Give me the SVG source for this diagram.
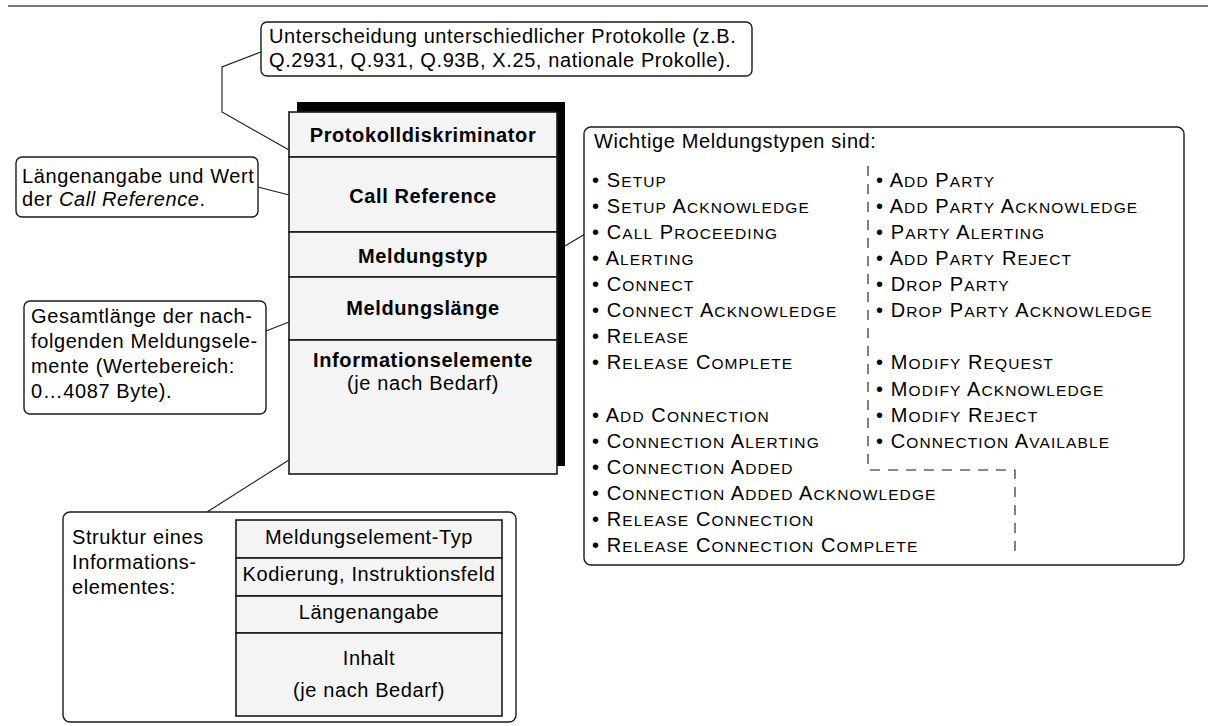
<svg xmlns="http://www.w3.org/2000/svg" width="1208" height="726" viewBox="0 0 1208 726">
  <style>
    text { font-family: "Liberation Sans", Arial, sans-serif; fill: #000; }
    .note { font-size: 20px; letter-spacing: 0.6px; }
    .box { fill: #fff; stroke: #1a1a1a; stroke-width: 1.4; }
    .cell { fill: #f4f4f4; stroke: #1a1a1a; stroke-width: 1.6; }
    .lead { fill: none; stroke: #1a1a1a; stroke-width: 1.1; }
    .head { font-size: 20px; font-weight: bold; letter-spacing: 0.6px; text-anchor: middle; }
    .sc { font-size: 20px; letter-spacing: 1.1px; }
    .sc tspan { font-size: 15.5px; }
    .mid { text-anchor: middle; }
    .dash { fill: none; stroke: #1a1a1a; stroke-width: 1.1; stroke-dasharray: 10 8; }
  </style>

  <!-- page rule -->
  <line x1="8" y1="6" x2="1208" y2="6" stroke="#777" stroke-width="2"/>

  <!-- leader lines -->
  <g id="connectors">
    <polyline class="lead" points="261,52 222,67 222,112 289,150"/>
    <line class="lead" x1="258" y1="187" x2="289" y2="195"/>
    <line class="lead" x1="266" y1="331" x2="289" y2="322"/>
    <line class="lead" x1="289" y1="460" x2="207" y2="512"/>
    <line class="lead" x1="565" y1="246" x2="585" y2="234"/>
  </g>

  <!-- message header stack -->
  <g id="message-stack">
    <rect x="297" y="102" width="268" height="364" fill="#000"/>
    <rect class="cell" x="289" y="112" width="268" height="45"/>
    <rect class="cell" x="289" y="157" width="268" height="75"/>
    <rect class="cell" x="289" y="232" width="268" height="45"/>
    <rect class="cell" x="289" y="277" width="268" height="63"/>
    <rect class="cell" x="289" y="340" width="268" height="134"/>
    <text class="head" x="423" y="142">Protokolldiskriminator</text>
    <text class="head" x="423" y="203">Call Reference</text>
    <text class="head" x="423" y="263">Meldungstyp</text>
    <text class="head" x="423" y="315">Meldungslänge</text>
    <text class="head" x="423" y="367">Informationselemente</text>
    <text class="note mid" x="423" y="390">(je nach Bedarf)</text>
  </g>

  <!-- protocol discriminator note -->
  <g id="note-protocol">
    <rect class="box" x="261" y="22" width="491" height="54" rx="6"/>
    <text class="note" x="269" y="43">Unterscheidung unterschiedlicher Protokolle (z.B.</text>
    <text class="note" x="269" y="67">Q.2931, Q.931, Q.93B, X.25, nationale Prokolle).</text>
  </g>

  <!-- call reference note -->
  <g id="note-callref">
    <rect class="box" x="16" y="157" width="242" height="60" rx="6"/>
    <text class="note" x="22" y="183">Längenangabe und Wert</text>
    <text class="note" x="22" y="206">der <tspan font-style="italic">Call Reference</tspan>.</text>
  </g>

  <!-- message length note -->
  <g id="note-length">
    <rect class="box" x="24" y="301" width="242" height="113" rx="6"/>
    <text class="note" x="31" y="323">Gesamtlänge der nach-</text>
    <text class="note" x="31" y="348">folgenden Meldungsele-</text>
    <text class="note" x="31" y="373">mente (Wertebereich:</text>
    <text class="note" x="31" y="398">0…4087 Byte).</text>
  </g>

  <!-- information element structure -->
  <g id="note-ie">
    <rect class="box" x="63" y="512" width="453" height="210" rx="7"/>
    <text class="note" x="72" y="544">Struktur eines</text>
    <text class="note" x="72" y="569">Informations-</text>
    <text class="note" x="72" y="594">elementes:</text>
    <rect class="cell" x="236" y="520" width="266" height="38" stroke-width="1.2"/>
    <rect class="cell" x="236" y="558" width="266" height="38" stroke-width="1.2"/>
    <rect class="cell" x="236" y="596" width="266" height="37" stroke-width="1.2"/>
    <rect class="cell" x="236" y="633" width="266" height="83" stroke-width="1.2"/>
    <text class="note mid" x="369" y="544">Meldungselement-Typ</text>
    <text class="note mid" x="369" y="581">Kodierung, Instruktionsfeld</text>
    <text class="note mid" x="369" y="619">Längenangabe</text>
    <text class="note mid" x="369" y="665">Inhalt</text>
    <text class="note mid" x="369" y="697">(je nach Bedarf)</text>
  </g>

  <!-- message type list (small caps built from two sizes) -->
  <g id="note-types">
    <rect class="box" x="584" y="127" width="600" height="438" rx="7"/>
    <text class="note" x="594" y="148">Wichtige Meldungstypen sind:</text>
    <path class="dash" d="M868,166 V470 H1015 V558"/>
    <g class="sc">
      <text x="592" y="187">• S<tspan>ETUP</tspan></text>
      <text x="592" y="213">• S<tspan>ETUP</tspan> A<tspan>CKNOWLEDGE</tspan></text>
      <text x="592" y="239">• C<tspan>ALL</tspan> P<tspan>ROCEEDING</tspan></text>
      <text x="592" y="265">• A<tspan>LERTING</tspan></text>
      <text x="592" y="291">• C<tspan>ONNECT</tspan></text>
      <text x="592" y="317">• C<tspan>ONNECT</tspan> A<tspan>CKNOWLEDGE</tspan></text>
      <text x="592" y="343">• R<tspan>ELEASE</tspan></text>
      <text x="592" y="369">• R<tspan>ELEASE</tspan> C<tspan>OMPLETE</tspan></text>
      <text x="592" y="422">• A<tspan>DD</tspan> C<tspan>ONNECTION</tspan></text>
      <text x="592" y="448">• C<tspan>ONNECTION</tspan> A<tspan>LERTING</tspan></text>
      <text x="592" y="474">• C<tspan>ONNECTION</tspan> A<tspan>DDED</tspan></text>
      <text x="592" y="500">• C<tspan>ONNECTION</tspan> A<tspan>DDED</tspan> A<tspan>CKNOWLEDGE</tspan></text>
      <text x="592" y="526">• R<tspan>ELEASE</tspan> C<tspan>ONNECTION</tspan></text>
      <text x="592" y="552">• R<tspan>ELEASE</tspan> C<tspan>ONNECTION</tspan> C<tspan>OMPLETE</tspan></text>
      <text x="876" y="187">• A<tspan>DD</tspan> P<tspan>ARTY</tspan></text>
      <text x="876" y="213">• A<tspan>DD</tspan> P<tspan>ARTY</tspan> A<tspan>CKNOWLEDGE</tspan></text>
      <text x="876" y="239">• P<tspan>ARTY</tspan> A<tspan>LERTING</tspan></text>
      <text x="876" y="265">• A<tspan>DD</tspan> P<tspan>ARTY</tspan> R<tspan>EJECT</tspan></text>
      <text x="876" y="291">• D<tspan>ROP</tspan> P<tspan>ARTY</tspan></text>
      <text x="876" y="317">• D<tspan>ROP</tspan> P<tspan>ARTY</tspan> A<tspan>CKNOWLEDGE</tspan></text>
      <text x="876" y="369">• M<tspan>ODIFY</tspan> R<tspan>EQUEST</tspan></text>
      <text x="876" y="396">• M<tspan>ODIFY</tspan> A<tspan>CKNOWLEDGE</tspan></text>
      <text x="876" y="422">• M<tspan>ODIFY</tspan> R<tspan>EJECT</tspan></text>
      <text x="876" y="448">• C<tspan>ONNECTION</tspan> A<tspan>VAILABLE</tspan></text>
    </g>
  </g>
</svg>
